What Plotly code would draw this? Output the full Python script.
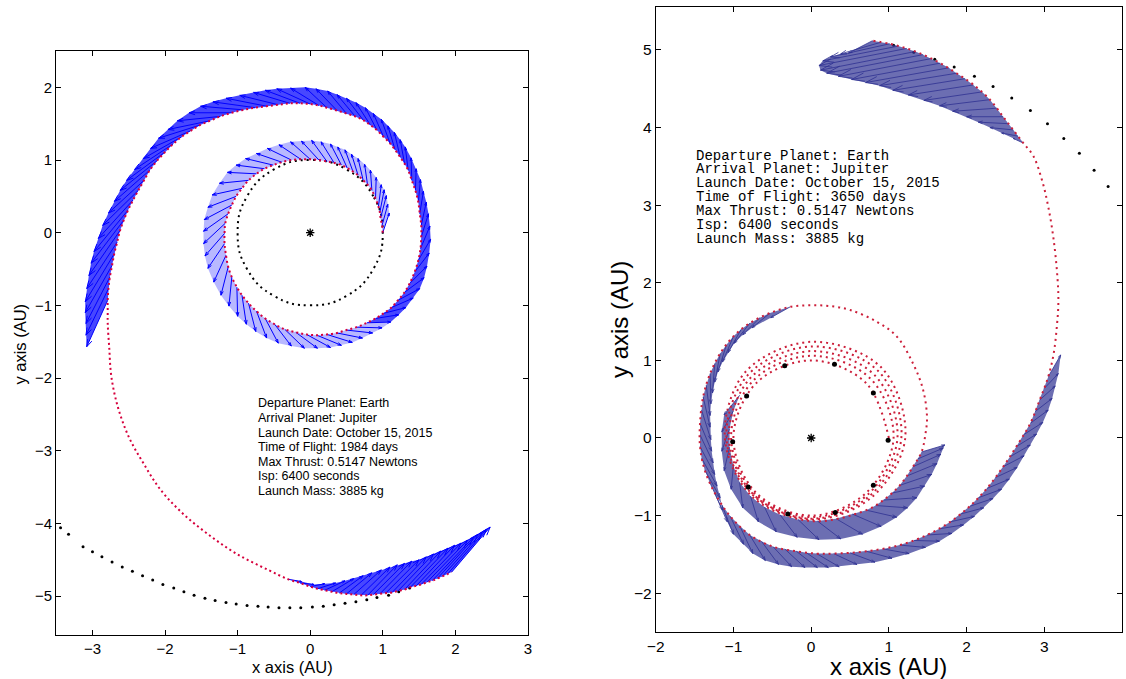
import math
import plotly.graph_objects as go
import plotly.figure_factory as ff

# ---------------- LEFT PANEL DATA (1984-day transfer) ----------------
traj_L_x = [1.00, 0.99, 0.97, 0.96, 0.94, 0.90, 0.85, 0.79, 0.73, 0.66,
            0.59, 0.51, 0.43, 0.33, 0.23, 0.12, 0.00, -0.13, -0.26, -0.39,
            -0.51, -0.63, -0.74, -0.85, -0.94, -1.02, -1.08, -1.13, -1.17, -1.18,
            -1.18, -1.16, -1.13, -1.08, -1.01, -0.94, -0.85, -0.74, -0.62, -0.49,
            -0.35, -0.20, -0.05, 0.09, 0.23, 0.37, 0.50, 0.64, 0.78, 0.90,
            1.01, 1.12, 1.21, 1.30, 1.37, 1.44, 1.49, 1.52, 1.53, 1.53,
            1.51, 1.49, 1.45, 1.40, 1.35, 1.30, 1.24, 1.17, 1.10, 1.01,
            0.92, 0.83, 0.73, 0.62, 0.50, 0.37, 0.23, 0.12, 0.00, -0.14,
            -0.28, -0.44, -0.60, -0.76, -0.92, -1.08, -1.24, -1.38, -1.52, -1.65,
            -1.77, -1.89, -2.00, -2.11, -2.21, -2.29, -2.37, -2.44, -2.51, -2.57,
            -2.62, -2.66, -2.70, -2.73, -2.76, -2.78, -2.79,
            -2.79, -2.79,
            -2.77, -2.74, -2.65, -2.50, -2.30, -2.06, -1.76, -1.42, -1.03, -0.58,
            -0.30, -0.14, 0.00, 0.10, 0.20, 0.30, 0.40, 0.50, 0.60, 0.70,
            0.79, 0.87, 0.96, 1.04, 1.13, 1.21, 1.30, 1.38, 1.46, 1.53,
            1.61, 1.68, 1.75, 1.82, 1.89, 1.95]
traj_L_y = [0.00, 0.10, 0.20, 0.28, 0.36, 0.47, 0.58, 0.66, 0.72, 0.79,
            0.84, 0.89, 0.93, 0.96, 0.98, 1.00, 1.01, 1.01, 1.00, 0.97,
            0.93, 0.88, 0.81, 0.72, 0.61, 0.50, 0.38, 0.26, 0.13, -0.01,
            -0.15, -0.31, -0.47, -0.61, -0.75, -0.86, -0.97, -1.08, -1.18, -1.26,
            -1.33, -1.37, -1.40, -1.41, -1.40, -1.38, -1.34, -1.30, -1.24, -1.18,
            -1.11, -1.03, -0.93, -0.82, -0.70, -0.54, -0.38, -0.22, -0.06, 0.10,
            0.26, 0.42, 0.58, 0.72, 0.86, 0.95, 1.04, 1.14, 1.23, 1.32,
            1.41, 1.48, 1.55, 1.60, 1.64, 1.68, 1.72, 1.75, 1.77, 1.78,
            1.78, 1.76, 1.74, 1.72, 1.69, 1.65, 1.60, 1.54, 1.48, 1.40,
            1.32, 1.22, 1.11, 0.99, 0.86, 0.72, 0.58, 0.45, 0.31, 0.17,
            0.03, -0.13, -0.29, -0.45, -0.61, -0.77, -0.93,
            -1.09, -1.25,
            -1.57, -1.98, -2.40, -2.81, -3.17, -3.54, -3.86, -4.14, -4.41, -4.64,
            -4.77, -4.82, -4.87, -4.90, -4.92, -4.94, -4.96, -4.97, -4.98, -4.99,
            -4.99, -4.98, -4.97, -4.96, -4.95, -4.93, -4.91, -4.88, -4.86, -4.84,
            -4.81, -4.79, -4.76, -4.73, -4.70, -4.67]
# thrust-vector tips, one per trajectory point (None = coasting)
tip_L_x = [1.09, 1.07, 1.05, 1.02, 0.98, 0.91, 0.83, 0.75, 0.66, 0.57,
           0.48, 0.38, 0.28, 0.15, 0.02, -0.12, -0.27, -0.43, -0.59, -0.74,
           -0.89, -1.02, -1.14, -1.25, -1.35, -1.41, -1.46, -1.47, -1.47, -1.45,
           -1.41, -1.33, -1.23, -1.12, -1.00, -0.88, -0.75, -0.60, -0.44, -0.26,
           -0.08, 0.10, 0.28, 0.43, 0.58, 0.72, 0.86, 0.99, 1.11, 1.22,
           1.32, 1.42, 1.51, 1.57, 1.61, 1.64, 1.66, 1.65, 1.63, 1.60,
           1.56, 1.52, 1.46, 1.39, 1.31, 1.24, 1.16, 1.07, 0.98, 0.87,
           0.76, 0.63, 0.50, 0.37, 0.24, 0.08, -0.07, -0.27, -0.46, -0.62,
           -0.78, -0.97, -1.16, -1.34, -1.51, -1.67, -1.83, -1.96, -2.09, -2.20,
           -2.30, -2.42, -2.53, -2.62, -2.70, -2.78, -2.86, -2.92, -2.98, -3.02,
           -3.05, -3.08, -3.10, -3.10, -3.09, -3.09, -3.08] + [None] * 12 + [
           -0.12, 0.05, 0.20, 0.35, 0.48, 0.60, 0.73, 0.85, 0.98, 1.10,
           1.20, 1.30, 1.40, 1.50, 1.60, 1.70, 1.80, 1.90, 1.99, 2.08,
           2.17, 2.25, 2.31, 2.37, 2.43, 2.48]
tip_L_y = [0.27, 0.39, 0.51, 0.59, 0.66, 0.76, 0.86, 0.94, 1.02, 1.08,
           1.14, 1.18, 1.22, 1.25, 1.27, 1.26, 1.25, 1.21, 1.16, 1.09,
           1.02, 0.93, 0.83, 0.68, 0.52, 0.35, 0.18, 0.02, -0.15, -0.32,
           -0.49, -0.68, -0.86, -1.01, -1.15, -1.26, -1.36, -1.45, -1.52, -1.56,
           -1.59, -1.59, -1.58, -1.55, -1.51, -1.45, -1.38, -1.31, -1.23, -1.13,
           -1.03, -0.90, -0.77, -0.62, -0.46, -0.28, -0.09, 0.09, 0.26, 0.42,
           0.57, 0.73, 0.88, 1.03, 1.18, 1.28, 1.38, 1.47, 1.56, 1.64,
           1.72, 1.79, 1.85, 1.90, 1.95, 1.98, 2.00, 1.99, 1.98, 1.96,
           1.93, 1.89, 1.85, 1.80, 1.74, 1.65, 1.54, 1.42, 1.30, 1.16,
           1.02, 0.87, 0.72, 0.58, 0.43, 0.27, 0.10, -0.08, -0.26, -0.42,
           -0.59, -0.77, -0.95, -1.10, -1.25, -1.41, -1.57] + [None] * 12 + [
           -4.80, -4.84, -4.83, -4.82, -4.79, -4.76, -4.72, -4.68, -4.64, -4.60,
           -4.57, -4.55, -4.52, -4.50, -4.46, -4.42, -4.38, -4.34, -4.30, -4.27,
           -4.23, -4.19, -4.15, -4.12, -4.08, -4.05]

earth_orbit_x = [1.00, 0.87, 0.50, 0.00, -0.50, -0.87, -1.00, -0.87, -0.50, 0.00, 0.50, 0.87, 1.00]
earth_orbit_y = [0.00, 0.50, 0.87, 1.00, 0.87, 0.50, 0.00, -0.50, -0.87, -1.00, -0.87, -0.50, 0.00]

jup_L_x = [-3.44, -3.33, -3.13, -3.00, -2.87, -2.73, -2.59, -2.45, -2.31, -2.17, -2.03, -1.88, -1.74, -1.60,
           -1.45, -1.31, -1.16, -1.02, -0.87, -0.72, -0.58, -0.43, -0.28, -0.13, 0.03, 0.18, 0.33, 0.48, 0.63,
           0.78, 0.92, 1.08, 1.22, 1.37]
jup_L_y = [-4.06, -4.15, -4.32, -4.39, -4.46, -4.53, -4.60, -4.66, -4.72, -4.78, -4.84, -4.89, -4.94, -4.99,
           -5.03, -5.06, -5.09, -5.11, -5.13, -5.14, -5.15, -5.16, -5.16, -5.16, -5.15, -5.14, -5.12, -5.10, -5.08,
           -5.05, -5.02, -4.99, -4.94, -4.89]

info_L = ["Departure Planet: Earth", "Arrival Planet: Jupiter", "Launch Date: October 15, 2015",
          "Time of Flight: 1984 days", "Max Thrust: 0.5147 Newtons", "Isp: 6400 seconds",
          "Launch Mass: 3885 kg"]

# ---------------- RIGHT PANEL DATA (3650-day transfer) ----------------
loop_angles = [0, 45, 90, 135, 180, 225, 270, 315]
loop_r = [[1.00, 1.00, 1.00, 1.00, 1.00, 1.00, 1.00, 1.00],
          [1.06, 1.08, 1.06, 1.05, 1.03, 1.02, 1.02, 1.03],
          [1.11, 1.15, 1.12, 1.10, 1.06, 1.04, 1.04, 1.06],
          [1.16, 1.22, 1.18, 1.15, 1.09, 1.05, 1.05, 1.09],
          [1.21, 1.28, 1.24, 1.20, 1.11, 1.07, 1.07]]
traj_R_x = [0.71, 0.93, 1.14, 1.31, 1.42, 1.47, 1.49, 1.44, 1.31, 1.10, 0.84, 0.50, 0.24, -0.02, -0.27, -0.53,
            -0.79, -1.00, -1.17, -1.30, -1.39, -1.43, -1.43, -1.37, -1.24, -1.04, -0.79, -0.49, -0.19, 0.07,
            0.29, 0.71, 1.14, 1.49, 1.79, 2.04, 2.26, 2.47, 2.64, 2.82, 2.94, 3.05, 3.12, 3.16, 3.18, 3.17,
            3.12, 3.05, 2.97, 2.86, 2.73, 2.60, 2.47, 2.30, 2.09, 1.87, 1.66, 1.44, 1.23, 1.01, 0.79]
traj_R_y = [-0.93, -0.80, -0.61, -0.37, -0.18, 0.05, 0.27, 0.62, 0.96, 1.31, 1.50, 1.65, 1.70, 1.71, 1.69, 1.61,
            1.48, 1.31, 1.09, 0.83, 0.53, 0.19, -0.11, -0.41, -0.71, -1.01, -1.25, -1.40, -1.46, -1.49,
            -1.49, -1.46, -1.38, -1.25, -1.08, -0.88, -0.65, -0.37, -0.11, 0.19, 0.49, 0.79, 1.09, 1.43, 1.74, 2.04,
            2.55, 2.98, 3.32, 3.63, 3.80, 3.97, 4.14, 4.36, 4.55, 4.70, 4.83, 4.94, 5.02, 5.08, 5.12]

bandA_bx = [-0.92, -1.00, -1.05, -1.05, -1.00, -0.92, -0.78, -0.60, -0.40, -0.17, 0.08, 0.32, 0.53, 0.71, 0.83,
            0.93, 1.04, 1.14, 1.23, 1.31, 1.37, 1.42]
bandA_by = [0.55, 0.35, 0.12, -0.12, -0.36, -0.57, -0.75, -0.89, -0.99, -1.05, -1.07, -1.04, -0.98, -0.93, -0.87,
            -0.80, -0.71, -0.61, -0.49, -0.37, -0.27, -0.18]
bandA_tx = [-1.12, -1.15, -1.15, -1.12, -1.03, -0.88, -0.68, -0.45, -0.18, 0.10, 0.38, 0.66, 0.90, 1.10, 1.24,
            1.36, 1.46, 1.55, 1.62, 1.67, 1.70, 1.72]
bandA_ty = [0.30, 0.08, -0.17, -0.42, -0.66, -0.90, -1.08, -1.21, -1.28, -1.31, -1.30, -1.24, -1.14, -1.02, -0.90,
            -0.77, -0.62, -0.47, -0.33, -0.21, -0.13, -0.09]

bandB_bx = [-0.27, -0.53, -0.66, -0.79, -0.90, -1.00, -1.09, -1.17, -1.24, -1.30, -1.35, -1.39, -1.41, -1.43,
            -1.43, -1.43, -1.41, -1.37, -1.31, -1.24, -1.15, -1.04, -0.92, -0.79, -0.64, -0.49, -0.34, -0.19,
            -0.06, 0.07, 0.29, 0.50, 0.71, 0.93, 1.14, 1.32, 1.49, 1.65, 1.79, 1.92, 2.04, 2.15, 2.26, 2.37,
            2.47, 2.56, 2.64, 2.73, 2.82, 2.88, 2.94, 3.00, 3.05]
bandB_by = [1.69, 1.61, 1.55, 1.48, 1.40, 1.31, 1.20, 1.09, 0.96, 0.83, 0.68, 0.53, 0.36, 0.19,
            0.04, -0.11, -0.26, -0.41, -0.56, -0.71, -0.86, -1.01, -1.13, -1.25, -1.33, -1.40, -1.43, -1.46,
            -1.48, -1.49, -1.49, -1.48, -1.46, -1.43, -1.38, -1.32, -1.25, -1.17, -1.08, -0.98, -0.88, -0.77, -0.65, -0.51,
            -0.37, -0.24, -0.11, 0.04, 0.19, 0.34, 0.49, 0.64, 0.79]
bandB_tx = [-0.52, -0.76, -0.88, -0.99, -1.07, -1.14, -1.20, -1.24, -1.27, -1.29, -1.30, -1.30, -1.29, -1.28,
            -1.26, -1.24, -1.21, -1.17, -1.14, -1.08, -1.00, -0.87, -0.75, -0.59, -0.42, -0.25, -0.08, 0.08,
            0.22, 0.36, 0.59, 0.82, 1.04, 1.26, 1.47, 1.65, 1.81, 1.96, 2.10, 2.22, 2.34, 2.45, 2.55, 2.65,
            2.74, 2.82, 2.90, 2.98, 3.05, 3.10, 3.14, 3.18, 3.21]
bandB_ty = [1.55, 1.42, 1.33, 1.22, 1.10, 0.98, 0.85, 0.72, 0.58, 0.44, 0.29, 0.14, -0.02, -0.17,
            -0.32, -0.47, -0.62, -0.77, -0.93, -1.08, -1.24, -1.37, -1.49, -1.58, -1.63, -1.66, -1.67, -1.67,
            -1.67, -1.66, -1.63, -1.60, -1.55, -1.49, -1.41, -1.33, -1.23, -1.12, -1.01, -0.90, -0.78, -0.66, -0.53, -0.38,
            -0.23, -0.09, 0.05, 0.20, 0.36, 0.51, 0.67, 0.83, 1.07]

bandC_bx = [2.73, 2.66, 2.60, 2.54, 2.47, 2.39, 2.30, 2.20, 2.09, 1.98, 1.87, 1.77, 1.66, 1.55, 1.44, 1.34,
            1.23, 1.12, 1.01, 0.90, 0.79]
bandC_by = [3.80, 3.89, 3.97, 4.05, 4.14, 4.25, 4.36, 4.46, 4.55, 4.63, 4.70, 4.77, 4.83, 4.89, 4.94, 4.98,
            5.02, 5.05, 5.08, 5.10, 5.12]
bandC_tx = [2.60, 2.45, 2.30, 2.15, 2.00, 1.82, 1.65, 1.45, 1.25, 1.05, 0.88, 0.70, 0.52, 0.35, 0.20, 0.12,
            0.10, 0.15, 0.25, 0.38, 0.48]
bandC_ty = [3.86, 3.93, 4.00, 4.07, 4.14, 4.21, 4.28, 4.35, 4.42, 4.48, 4.54, 4.58, 4.62, 4.66, 4.70, 4.74,
            4.80, 4.86, 4.91, 4.95, 4.96]

earth_pos_R_x = [-0.34, 0.30, 0.80, 0.99, 0.80, 0.31, -0.30, -0.81, -1.01, -0.83]
earth_pos_R_y = [0.93, 0.95, 0.58, -0.03, -0.61, -0.96, -0.98, -0.63, -0.05, 0.54]

jup_R_x = [1.06, 1.32, 1.59, 1.84, 2.10, 2.34, 2.58, 2.82, 3.04, 3.25, 3.45, 3.64, 3.82]
jup_R_y = [5.06, 4.97, 4.88, 4.78, 4.66, 4.53, 4.38, 4.22, 4.05, 3.86, 3.67, 3.45, 3.24]

info_R = ["Departure Planet: Earth", "Arrival Planet: Jupiter", "Launch Date: October 15, 2015",
          "Time of Flight: 3650 days", "Max Thrust: 0.5147 Newtons", "Isp: 6400 seconds",
          "Launch Mass: 3885 kg"]

# ---------------- STYLE ----------------
BLUE_L = "#0000ff"
BLUE_R = "#2e3192"
RED_L = "#d6003c"
RED_R = "#cc1f3a"
SANS = "Liberation Sans, Arial, Helvetica, sans-serif"
MONO = "Liberation Mono, Courier New, monospace"


def quiver(bx, by, tx, ty, color, width, xa, ya):
    keep = [(a, b, c, d) for a, b, c, d in zip(bx, by, tx, ty) if c is not None]
    x = [k[0] for k in keep]
    y = [k[1] for k in keep]
    u = [k[2] - k[0] for k in keep]
    v = [k[3] - k[1] for k in keep]
    q = ff.create_quiver(x, y, u, v, scale=1, arrow_scale=0.15, angle=math.pi / 10,
                         line=dict(color=color, width=width))
    tr = q.data[0]
    tr.update(xaxis=xa, yaxis=ya, showlegend=False, hoverinfo="skip")
    return tr


def band(bx, by, tx, ty, color, xa, ya):
    keep = [(a, b, c, d) for a, b, c, d in zip(bx, by, tx, ty) if c is not None]
    xs = [k[0] for k in keep] + [k[2] for k in keep][::-1]
    ys = [k[1] for k in keep] + [k[3] for k in keep][::-1]
    return go.Scatter(x=xs + xs[:1], y=ys + ys[:1], mode="lines", fill="toself", fillcolor=color,
                      line=dict(width=0), xaxis=xa, yaxis=ya, showlegend=False, hoverinfo="skip")


fig = go.Figure()

# ---- left panel ----
fig.add_trace(go.Scatter(x=earth_orbit_x, y=earth_orbit_y, mode="lines", xaxis="x", yaxis="y",
                         line=dict(color="black", width=2, dash="2px,4px", shape="spline", smoothing=1.3),
                         showlegend=False))
fig.add_trace(go.Scatter(x=jup_L_x, y=jup_L_y, mode="markers", xaxis="x", yaxis="y",
                         marker=dict(color="black", size=3), showlegend=False))
fig.add_trace(band(traj_L_x[0:49], traj_L_y[0:49], tip_L_x[0:49], tip_L_y[0:49],
                   "rgba(0,0,255,0.28)", "x", "y"))
fig.add_trace(band(traj_L_x[48:107], traj_L_y[48:107], tip_L_x[48:107], tip_L_y[48:107],
                   "rgba(0,0,255,0.72)", "x", "y"))
fig.add_trace(band(traj_L_x[119:], traj_L_y[119:], tip_L_x[119:], tip_L_y[119:],
                   "rgba(0,0,255,0.72)", "x", "y"))
fig.add_trace(quiver(traj_L_x, traj_L_y, tip_L_x, tip_L_y, BLUE_L, 1.0, "x", "y"))
fig.add_trace(go.Scatter(x=traj_L_x, y=traj_L_y, mode="lines", xaxis="x", yaxis="y",
                         line=dict(color=RED_L, width=2, dash="2px,3px", shape="spline", smoothing=1.0),
                         showlegend=False))
fig.add_trace(go.Scatter(x=[0], y=[0], mode="markers", xaxis="x", yaxis="y",
                         marker=dict(symbol="asterisk-open", size=7, color="black",
                                     line=dict(color="black", width=1.3)),
                         showlegend=False))

# ---- right panel ----
inner_x, inner_y = [], []
for radii in loop_r:
    for ang, r in zip(loop_angles, radii):
        inner_x.append(r * math.cos(math.radians(ang)))
        inner_y.append(r * math.sin(math.radians(ang)))
full_R_x = inner_x + traj_R_x
full_R_y = inner_y + traj_R_y

fig.add_trace(go.Scatter(x=jup_R_x, y=jup_R_y, mode="markers", xaxis="x2", yaxis="y2",
                         marker=dict(color="black", size=3), showlegend=False))
for bx, by, tx, ty in [(bandA_bx, bandA_by, bandA_tx, bandA_ty),
                       (bandB_bx, bandB_by, bandB_tx, bandB_ty),
                       (bandC_bx, bandC_by, bandC_tx, bandC_ty)]:
    fig.add_trace(band(bx, by, tx, ty, "rgba(46,49,146,0.70)", "x2", "y2"))
    fig.add_trace(quiver(bx, by, tx, ty, BLUE_R, 0.8, "x2", "y2"))
fig.add_trace(go.Scatter(x=full_R_x, y=full_R_y, mode="lines", xaxis="x2", yaxis="y2",
                         line=dict(color=RED_R, width=2, dash="2px,4px", shape="spline", smoothing=1.0),
                         showlegend=False))
fig.add_trace(go.Scatter(x=earth_pos_R_x, y=earth_pos_R_y, mode="markers", xaxis="x2", yaxis="y2",
                         marker=dict(color="black", size=5), showlegend=False))
fig.add_trace(go.Scatter(x=[0], y=[0], mode="markers", xaxis="x2", yaxis="y2",
                         marker=dict(symbol="asterisk-open", size=7, color="black",
                                     line=dict(color="black", width=1.3)),
                         showlegend=False))

# ---- annotations ----
ann = []
for i, s in enumerate(info_L):
    ann.append(dict(x=-0.74, y=-2.35 - 0.2 * i, xref="x", yref="y", text=s, showarrow=False,
                    xanchor="left", yanchor="middle", font=dict(family=SANS, size=12.5, color="black")))
for i, s in enumerate(info_R):
    ann.append(dict(x=-1.51, y=3.64 - 0.18 * i, xref="x2", yref="y2", text=s, showarrow=False,
                    xanchor="left", yanchor="middle", font=dict(family=MONO, size=14, color="black")))
ann += [
    dict(x=0.2601, y=0.018, xref="paper", yref="paper", text="x axis (AU)", showarrow=False,
         xanchor="center", yanchor="middle", font=dict(family=SANS, size=16.5, color="black")),
    dict(x=19.6 / 1126, y=(679 - 344) / 679, xref="paper", yref="paper", text="y axis (AU)", showarrow=False,
         textangle=-90, xanchor="center", yanchor="middle", font=dict(family=SANS, size=16.5, color="black")),
    dict(x=888.9 / 1126, y=0.018, xref="paper", yref="paper", text="x axis (AU)", showarrow=False,
         xanchor="center", yanchor="middle", font=dict(family=SANS, size=24, color="black")),
    dict(x=619 / 1126, y=(679 - 320) / 679, xref="paper", yref="paper", text="y axis (AU)", showarrow=False,
         textangle=-90, xanchor="center", yanchor="middle", font=dict(family=SANS, size=24, color="black")),
]

axstyle = dict(showline=True, linecolor="black", linewidth=1, mirror="ticks", ticks="inside", ticklen=5,
               tickcolor="black", tickwidth=1, showgrid=False, zeroline=False, tick0=0, dtick=1,
               fixedrange=True, automargin=False)

fig.update_layout(
    width=1126, height=679, margin=dict(l=0, r=0, t=0, b=0, autoexpand=False),
    paper_bgcolor="white", plot_bgcolor="white", showlegend=False,
    xaxis=dict(domain=[0.04991, 0.46883], range=[-3.5, 3], anchor="y",
               tickfont=dict(family=SANS, size=15, color="black"), **axstyle),
    yaxis=dict(domain=[0.06436, 0.92489], range=[-5.54, 2.5], anchor="x",
               tickfont=dict(family=SANS, size=15, color="black"), **axstyle),
    xaxis2=dict(domain=[0.58233, 0.99654], range=[-2, 4], anchor="y2",
                tickfont=dict(family=SANS, size=15.5, color="black"), **axstyle),
    yaxis2=dict(domain=[0.06922, 0.98925], range=[-2.5, 5.55], anchor="x2",
                tickfont=dict(family=SANS, size=15.5, color="black"), **axstyle),
    annotations=ann,
)

fig.write_html("out.html", config={"displayModeBar": False},
               post_script="document.body.style.margin='0px';document.body.style.overflow='hidden';")
